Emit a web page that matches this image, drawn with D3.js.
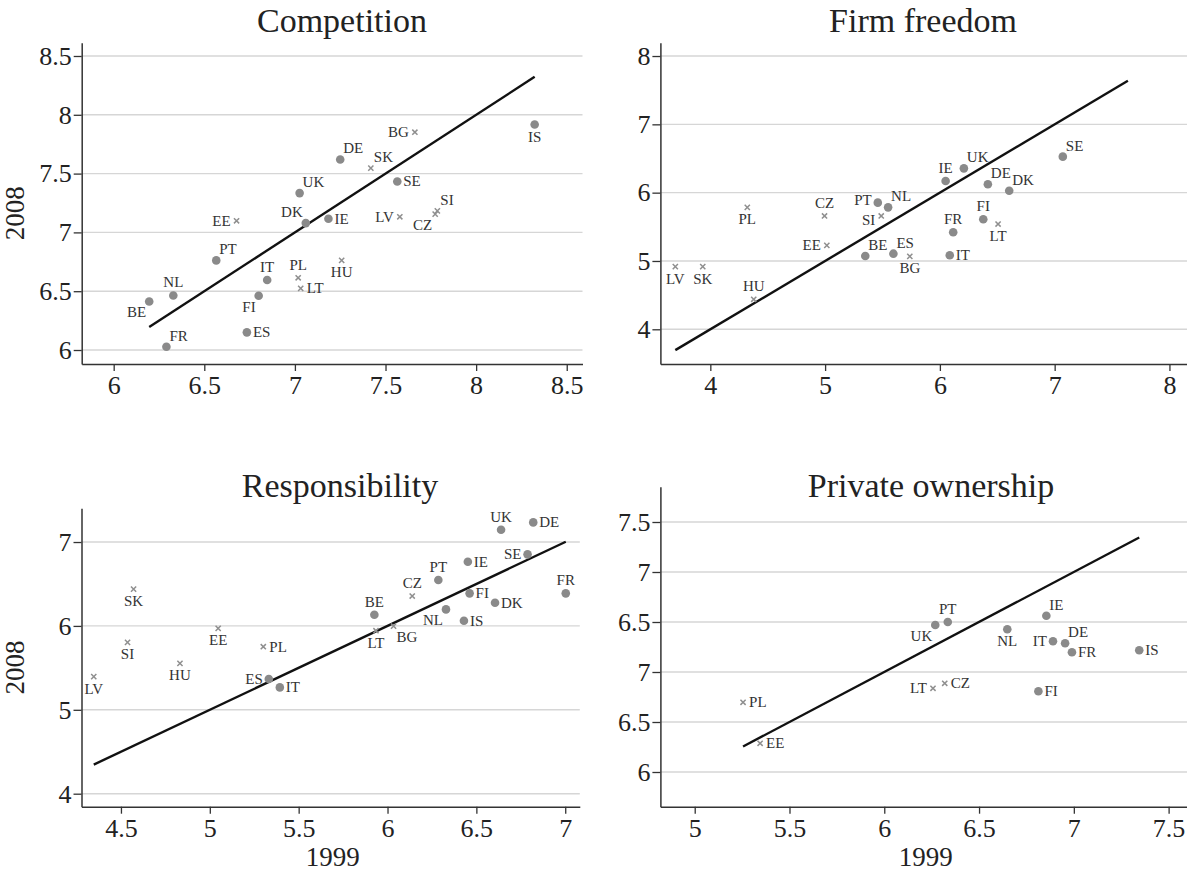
<!DOCTYPE html>
<html>
<head>
<meta charset="utf-8">
<script src="https://cdn.jsdelivr.net/npm/d3@7"></script>
<style>
  body { margin: 0; background: #fff; }
  text { font-family: "Liberation Serif", "DejaVu Serif", serif; }
</style>
</head>
<body>
<svg id="chart" width="1187" height="873"></svg>
<script>
// new member states are drawn with a cross, the rest with a dot
const newMembers = ["BG", "CZ", "EE", "HU", "LV", "LT", "PL", "SK", "SI"];

// Competition
const compCountries = ["BE", "NL", "FR", "PT", "EE", "FI", "IT", "ES", "UK", "DK", "IE", "DE", "PL", "LT", "HU", "SK", "SE", "LV", "CZ", "SI", "BG", "IS"];
const comp1999 = [6.196, 6.329, 6.291, 6.566, 6.678, 6.800, 6.847, 6.735, 7.026, 7.060, 7.185, 7.250, 7.018, 7.032, 7.258, 7.419, 7.565, 7.579, 7.774, 7.786, 7.662, 8.323];
const comp2008 = [6.413, 6.464, 6.028, 6.762, 7.099, 6.461, 6.595, 6.150, 7.334, 7.079, 7.116, 7.620, 6.614, 6.524, 6.762, 7.546, 7.433, 7.133, 7.155, 7.183, 7.852, 7.917];
const compTicks = [6, 6.5, 7, 7.5, 8, 8.5];
const compTickLabels = ["6", "6.5", "7", "7.5", "8", "8.5"];

// Firm freedom
const firmCountries = ["LV", "SK", "HU", "PL", "CZ", "EE", "PT", "NL", "SI", "BE", "ES", "BG", "IE", "UK", "DE", "DK", "FR", "FI", "LT", "IT", "SE"];
const firm1999 = [3.695, 3.934, 4.378, 4.322, 4.995, 5.015, 5.459, 5.549, 5.489, 5.350, 5.595, 5.738, 6.050, 6.209, 6.418, 6.604, 6.116, 6.378, 6.507, 6.086, 7.071];
const firm2008 = [4.917, 4.917, 4.439, 5.785, 5.659, 5.229, 5.854, 5.785, 5.659, 5.073, 5.107, 5.068, 6.171, 6.356, 6.122, 6.029, 5.420, 5.610, 5.541, 5.083, 6.527];
const firmXTicks = [4, 5, 6, 7, 8];
const firmYTicks = [4, 5, 6, 7, 8];

// Responsibility
const respCountries = ["LV", "SI", "SK", "HU", "EE", "PL", "ES", "IT", "BE", "LT", "BG", "CZ", "PT", "NL", "IE", "FI", "IS", "DK", "UK", "DE", "SE", "FR"];
const resp1999 = [4.347, 4.537, 4.571, 4.832, 5.047, 5.301, 5.332, 5.394, 5.926, 5.935, 6.034, 6.139, 6.286, 6.329, 6.452, 6.462, 6.430, 6.605, 6.639, 6.820, 6.788, 7.003];
const resp2008 = [5.395, 5.804, 6.439, 5.553, 5.971, 5.752, 5.367, 5.267, 6.133, 5.943, 5.998, 6.356, 6.547, 6.197, 6.765, 6.388, 6.062, 6.277, 7.147, 7.234, 6.853, 6.388];
const respXTicks = [4.5, 5, 5.5, 6, 6.5, 7];
const respYTicks = [4, 5, 6, 7];

// Private ownership
const privCountries = ["PL", "EE", "UK", "PT", "LT", "CZ", "NL", "IE", "IT", "DE", "FR", "FI", "IS"];
const priv1999 = [5.255, 5.345, 6.269, 6.335, 6.257, 6.319, 6.649, 6.855, 6.890, 6.954, 6.990, 6.813, 7.345];
const priv2008 = [5.697, 5.287, 6.470, 6.500, 5.837, 5.887, 6.427, 6.563, 6.307, 6.287, 6.197, 5.807, 6.217];
const privXTicks = [5, 5.5, 6, 6.5, 7, 7.5];
const privYTicks = [5, 5.5, 6, 6.5, 7, 7.5];
const privYTickLabels = ["6", "6.5", "7", "6.5", "7", "7.5"];

// where each country label sits around its marker
const compLabelPos = { BE: "bl", NL: "t", FR: "tr", PT: "tr", EE: "l", FI: "bl", IT: "t", ES: "r", UK: "tr", DK: "tl", IE: "r", DE: "tr", PL: "t", LT: "r", HU: "b", SK: "tr", SE: "r", LV: "l", CZ: "bl", SI: "tr", BG: "l", IS: "b" };
const firmLabelPos = { LV: "b", SK: "b", HU: "t", PL: "b", CZ: "t", EE: "l", PT: "lu", NL: "tr", SI: "ld", BE: "tr", ES: "tr", BG: "b", IE: "t", UK: "tr", DE: "tr", DK: "tr", FR: "t", FI: "t", LT: "b", IT: "r", SE: "tr" };
const respLabelPos = { LV: "b", SI: "b", SK: "b", HU: "b", EE: "b", PL: "r", ES: "l", IT: "r", BE: "t", LT: "b", BG: "br", CZ: "t", PT: "t", NL: "bl", IE: "r", FI: "r", IS: "r", DK: "r", UK: "t", DE: "r", SE: "l", FR: "t" };
const privLabelPos = { PL: "r", EE: "r", UK: "bl", PT: "t", LT: "l", CZ: "r", NL: "b", IE: "tr", IT: "l", DE: "tr", FR: "r", FI: "r", IS: "r" };

const panels = [
  { title: "Competition", countries: compCountries, xs: comp1999, ys: comp2008, labelPos: compLabelPos,
    xTicks: compTicks, yTicks: compTicks, yLabels: compTickLabels,
    left: 81.7, right: 582.5, top: 42.7, bottom: 364, xDom: [5.8235, 8.587], yDom: [5.881, 8.613],
    titleX: 342, titleY: 32, yTitle: true, xTitle: false },
  { title: "Firm freedom", countries: firmCountries, xs: firm1999, ys: firm2008, labelPos: firmLabelPos,
    xTicks: firmXTicks, yTicks: firmYTicks, yLabels: null, lineEnd: 7.638,
    left: 660.4, right: 1187, top: 42.7, bottom: 364, xDom: [3.565, 8.153], yDom: [3.492, 8.195],
    titleX: 923, titleY: 32, yTitle: false, xTitle: false },
  { title: "Responsibility", countries: respCountries, xs: resp1999, ys: resp2008, labelPos: respLabelPos,
    xTicks: respXTicks, yTicks: respYTicks, yLabels: null,
    left: 81.5, right: 579.8, top: 508.3, bottom: 806.7, xDom: [4.278, 7.082], yDom: [3.845, 7.402],
    titleX: 340, titleY: 497, yTitle: true, xTitle: true },
  { title: "Private ownership", countries: privCountries, xs: priv1999, ys: priv2008, labelPos: privLabelPos,
    xTicks: privXTicks, yTicks: privYTicks, yLabels: privYTickLabels,
    left: 660.4, right: 1187, top: 486.7, bottom: 806.7, xDom: [4.819, 7.597], yDom: [4.653, 7.853],
    titleX: 931, titleY: 497, yTitle: false, xTitle: true }
];

const svg = d3.select("#chart");

const offsets = {
  r:  { dx: 6,  dy: 5,  anchor: "start" },
  l:  { dx: -6, dy: 5,  anchor: "end" },
  lu: { dx: -6, dy: 2,  anchor: "end" },
  ld: { dx: -6, dy: 9,  anchor: "end" },
  t:  { dx: 0,  dy: -8, anchor: "middle" },
  b:  { dx: 0,  dy: 17, anchor: "middle" },
  tr: { dx: 3,  dy: -6, anchor: "start" },
  tl: { dx: -3, dy: -6, anchor: "end" },
  br: { dx: 3,  dy: 16, anchor: "start" },
  bl: { dx: -3, dy: 16, anchor: "end" }
};

panels.forEach(p => {
  const x = d3.scaleLinear().domain(p.xDom).range([p.left, p.right]);
  const y = d3.scaleLinear().domain(p.yDom).range([p.bottom, p.top]);
  const g = svg.append("g");

  // grid lines
  g.selectAll(".grid")
    .data(p.yTicks)
    .enter()
    .append("line")
    .attr("x1", p.left)
    .attr("x2", p.right)
    .attr("y1", d => y(d))
    .attr("y2", d => y(d))
    .attr("stroke", "#d6d6d6")
    .attr("stroke-width", 1.4);

  const yAxis = g.append("g")
    .attr("transform", `translate(${p.left},0)`)
    .call(d3.axisLeft(y)
      .tickValues(p.yTicks)
      .tickSize(8)
      .tickSizeOuter(0)
      .tickPadding(2)
      .tickFormat((d, i) => p.yLabels ? p.yLabels[i] : d3.format("~g")(d)));

  const xAxis = g.append("g")
    .attr("transform", `translate(0,${p.bottom})`)
    .call(d3.axisBottom(x)
      .tickValues(p.xTicks)
      .tickSize(7)
      .tickSizeOuter(0)
      .tickPadding(5)
      .tickFormat(d3.format("~g")));

  [yAxis, xAxis].forEach(a => {
    a.select(".domain").attr("stroke", "#333").attr("stroke-width", 1.5);
    a.selectAll(".tick line").attr("stroke", "#333").attr("stroke-width", 1.3);
    a.selectAll(".tick text")
      .attr("font-family", "Liberation Serif")
      .attr("font-size", 26)
      .attr("fill", "#222");
  });

  // 45 degree line
  const x0 = d3.min(p.xs);
  const x1 = p.lineEnd || d3.max(p.xs);
  g.append("line")
    .attr("x1", x(x0))
    .attr("y1", y(x0))
    .attr("x2", x(x1))
    .attr("y2", y(x1))
    .attr("stroke", "#111")
    .attr("stroke-width", 2.4);

  const pts = p.countries.map((c, i) => ({ c: c, x: p.xs[i], y: p.ys[i] }));

  g.selectAll(".dot")
    .data(pts.filter(d => !newMembers.includes(d.c)))
    .enter()
    .append("circle")
    .attr("cx", d => x(d.x))
    .attr("cy", d => y(d.y))
    .attr("r", 4.3)
    .attr("fill", "#8a8a8a");

  g.selectAll(".cross")
    .data(pts.filter(d => newMembers.includes(d.c)))
    .enter()
    .append("path")
    .attr("transform", d => `translate(${x(d.x)},${y(d.y)})`)
    .attr("d", "M-2.6,-2.6L2.6,2.6M-2.6,2.6L2.6,-2.6")
    .attr("stroke", "#8f8f8f")
    .attr("stroke-width", 1.5);

  g.selectAll(".lab")
    .data(pts)
    .enter()
    .append("text")
    .attr("x", d => x(d.x) + offsets[p.labelPos[d.c]].dx)
    .attr("y", d => y(d.y) + offsets[p.labelPos[d.c]].dy)
    .attr("text-anchor", d => offsets[p.labelPos[d.c]].anchor)
    .attr("font-size", 15)
    .attr("fill", "#333")
    .text(d => d.c);

  g.append("text")
    .attr("x", p.titleX)
    .attr("y", p.titleY)
    .attr("text-anchor", "middle")
    .attr("font-size", 34)
    .attr("fill", "#222")
    .text(p.title);

  if (p.yTitle) {
    g.append("text")
      .attr("transform", `translate(24,${(p.top + p.bottom) / 2 + 10}) rotate(-90)`)
      .attr("text-anchor", "middle")
      .attr("font-size", 27)
      .attr("fill", "#222")
      .text("2008");
  }
  if (p.xTitle) {
    g.append("text")
      .attr("x", (p.left + p.right) / 2 + 2)
      .attr("y", 866)
      .attr("text-anchor", "middle")
      .attr("font-size", 27)
      .attr("fill", "#222")
      .text("1999");
  }
});
</script>
</body>
</html>
